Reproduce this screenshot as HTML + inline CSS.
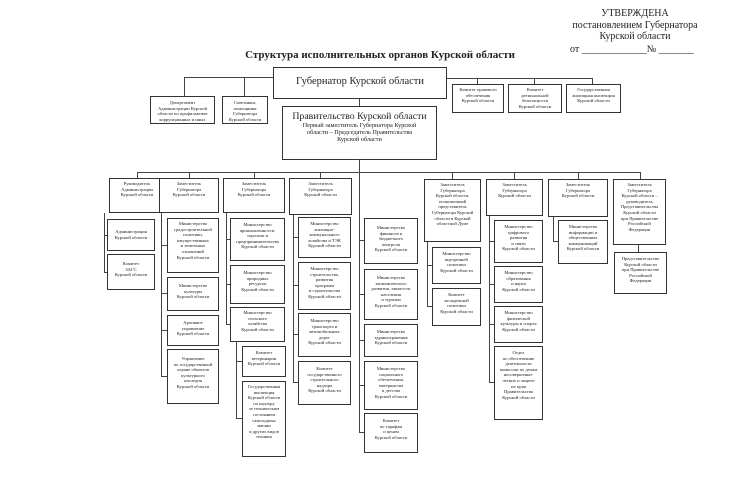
<!DOCTYPE html>
<html><head><meta charset="utf-8"><style>
body{margin:0;background:#fff;}
#c{position:relative;width:750px;height:500px;overflow:hidden;font-family:"Liberation Serif","Noto Serif CJK SC",serif;color:#222;}
.b{position:absolute;border:1px solid #333;box-sizing:border-box;text-align:center;font-size:4.6px;line-height:5.6px;padding-top:2px;background:#fff;overflow:hidden;}
.h{position:absolute;border-top:1px solid #444;height:0;}
.v{position:absolute;border-left:1px solid #444;width:0;}
.t{position:absolute;text-align:center;}
</style></head><body><div id="c">
<div class="t" style="left:555px;top:8px;width:160px;font-size:10px;line-height:11.5px;white-space:nowrap;">УТВЕРЖДЕНА<br>постановлением Губернатора<br>Курской области</div>
<div class="t" style="left:570px;top:44px;width:140px;font-size:10px;text-align:left;white-space:nowrap;">от _____________№ _______</div>
<div class="t" style="left:220px;top:49px;width:320px;font-size:11px;font-weight:bold;white-space:nowrap;">Структура исполнительных органов Курской области</div>

<!-- top lines -->
<div class="h" style="left:184px;top:77px;width:89px;"></div>
<div class="v" style="left:184px;top:77px;height:19px;"></div>
<div class="v" style="left:244px;top:77px;height:19px;"></div>
<div class="h" style="left:446px;top:78px;width:146px;"></div>
<div class="v" style="left:477px;top:78px;height:7px;"></div>
<div class="v" style="left:534px;top:78px;height:7px;"></div>
<div class="v" style="left:592px;top:78px;height:7px;"></div>
<div class="v" style="left:359px;top:98px;height:8px;"></div>

<div class="b" style="left:273px;top:67px;width:174px;height:32px;font-size:10.5px;line-height:12px;padding-top:8px;">Губернатор Курской области</div>
<div class="b" style="left:150px;top:96px;width:65px;height:28px;padding-top:3px;">Департамент<br>Администрации Курской<br>области по профилактике<br>коррупционных и иных<br>правонарушений</div>
<div class="b" style="left:222px;top:96px;width:46px;height:28px;padding-top:3px;">Советники,<br>помощники<br>Губернатора<br>Курской области</div>
<div class="b" style="left:452px;top:84px;width:52px;height:29px;">Комитет правового<br>обеспечения<br>Курской области</div>
<div class="b" style="left:508px;top:84px;width:54px;height:29px;">Комитет<br>региональной<br>безопасности<br>Курской области</div>
<div class="b" style="left:566px;top:84px;width:55px;height:29px;">Государственная<br>жилищная инспекция<br>Курской области</div>

<div class="b" style="left:282px;top:106px;width:155px;height:54px;padding-top:4px;"><div style="font-size:9.8px;line-height:11px;">Правительство Курской области</div><div style="font-size:6.3px;line-height:7px;">Первый заместитель Губернатора Курской<br>области – Председатель Правительства<br>Курской области</div></div>

<!-- bus -->
<div class="v" style="left:359px;top:159px;height:274px;"></div>
<div class="h" style="left:137px;top:172px;width:503px;"></div>
<div class="v" style="left:137px;top:172px;height:6px;"></div>
<div class="v" style="left:189px;top:172px;height:6px;"></div>
<div class="v" style="left:254px;top:172px;height:6px;"></div>
<div class="v" style="left:320px;top:172px;height:6px;"></div>
<div class="v" style="left:452px;top:172px;height:7px;"></div>
<div class="v" style="left:514px;top:172px;height:7px;"></div>
<div class="v" style="left:578px;top:172px;height:7px;"></div>
<div class="v" style="left:640px;top:172px;height:7px;"></div>

<!-- deputies row -->
<div class="b" style="left:109px;top:178px;width:56px;height:35px;">Руководитель<br>Администрации<br>Курской области</div>
<div class="b" style="left:159px;top:178px;width:60px;height:35px;">Заместитель<br>Губернатора<br>Курской области</div>
<div class="b" style="left:223px;top:178px;width:62px;height:35px;">Заместитель<br>Губернатора<br>Курской области</div>
<div class="b" style="left:289px;top:178px;width:63px;height:37px;">Заместитель<br>Губернатора<br>Курской области</div>
<div class="b" style="left:424px;top:179px;width:57px;height:63px;">Заместитель<br>Губернатора<br>Курской области,<br>полномочный<br>представитель<br>Губернатора Курской<br>области в Курской<br>областной Думе</div>
<div class="b" style="left:486px;top:179px;width:57px;height:37px;">Заместитель<br>Губернатора<br>Курской области</div>
<div class="b" style="left:548px;top:179px;width:60px;height:38px;">Заместитель<br>Губернатора<br>Курской области</div>
<div class="b" style="left:613px;top:179px;width:53px;height:66px;">Заместитель<br>Губернатора<br>Курской области –<br>руководитель<br>Представительства<br>Курской области<br>при Правительстве<br>Российской<br>Федерации</div>

<!-- col 1 -->
<div class="v" style="left:104px;top:213px;height:60px;"></div>
<div class="h" style="left:104px;top:235px;width:4px;"></div>
<div class="h" style="left:104px;top:272px;width:4px;"></div>
<div class="b" style="left:107px;top:219px;width:48px;height:32px;padding-top:9px;">Администрация<br>Курской области</div>
<div class="b" style="left:107px;top:254px;width:48px;height:36px;padding-top:6px;">Комитет<br>ЗАГС<br>Курской области</div>

<!-- col 2 -->
<div class="v" style="left:161px;top:213px;height:164px;"></div>
<div class="h" style="left:161px;top:245px;width:6px;"></div>
<div class="h" style="left:161px;top:293px;width:6px;"></div>
<div class="h" style="left:161px;top:330px;width:6px;"></div>
<div class="h" style="left:161px;top:376px;width:6px;"></div>
<div class="b" style="left:167px;top:218px;width:52px;height:55px;">Министерство<br>градостроительной<br>политики,<br>имущественных<br>и земельных<br>отношений<br>Курской области</div>
<div class="b" style="left:167px;top:277px;width:52px;height:34px;padding-top:5px;">Министерство<br>культуры<br>Курской области</div>
<div class="b" style="left:167px;top:315px;width:52px;height:31px;padding-top:4px;">Архивное<br>управление<br>Курской области</div>
<div class="b" style="left:167px;top:349px;width:52px;height:55px;padding-top:6px;">Управление<br>по государственной<br>охране объектов<br>культурного<br>наследия<br>Курской области</div>

<!-- col 3 -->
<div class="v" style="left:226px;top:213px;height:111px;"></div>
<div class="h" style="left:226px;top:239px;width:4px;"></div>
<div class="h" style="left:226px;top:284px;width:4px;"></div>
<div class="h" style="left:226px;top:324px;width:4px;"></div>
<div class="b" style="left:230px;top:218px;width:55px;height:43px;padding-top:3px;">Министерство<br>промышленности,<br>торговли и<br>предпринимательства<br>Курской области</div>
<div class="b" style="left:230px;top:265px;width:55px;height:39px;padding-top:4px;">Министерство<br>природных<br>ресурсов<br>Курской области</div>
<div class="b" style="left:230px;top:307px;width:55px;height:35px;">Министерство<br>сельского<br>хозяйства<br>Курской области</div>
<div class="v" style="left:236px;top:341px;height:78px;"></div>
<div class="h" style="left:236px;top:361px;width:6px;"></div>
<div class="h" style="left:236px;top:418px;width:6px;"></div>
<div class="b" style="left:242px;top:346px;width:44px;height:31px;padding-top:3px;">Комитет<br>ветеринарии<br>Курской области</div>
<div class="b" style="left:242px;top:381px;width:44px;height:76px;">Государственная<br>инспекция<br>Курской области<br>по надзору<br>за техническим<br>состоянием<br>самоходных<br>машин<br>и других видов<br>техники</div>

<!-- col 4 -->
<div class="v" style="left:293px;top:215px;height:168px;"></div>
<div class="h" style="left:293px;top:237px;width:5px;"></div>
<div class="h" style="left:293px;top:285px;width:5px;"></div>
<div class="h" style="left:293px;top:334px;width:5px;"></div>
<div class="h" style="left:293px;top:382px;width:5px;"></div>
<div class="b" style="left:298px;top:217px;width:53px;height:41px;padding-top:3px;">Министерство<br>жилищно-<br>коммунального<br>хозяйства и ТЭК<br>Курской области</div>
<div class="b" style="left:298px;top:262px;width:53px;height:48px;padding-top:3px;">Министерство<br>строительства,<br>развития<br>программ<br>и строительства<br>Курской области</div>
<div class="b" style="left:298px;top:313px;width:53px;height:44px;padding-top:4px;">Министерство<br>транспорта и<br>автомобильных<br>дорог<br>Курской области</div>
<div class="b" style="left:298px;top:361px;width:53px;height:44px;padding-top:4px;">Комитет<br>государственного<br>строительного<br>надзора<br>Курской области</div>

<!-- central col -->
<div class="h" style="left:359px;top:240px;width:5px;"></div>
<div class="h" style="left:359px;top:294px;width:5px;"></div>
<div class="h" style="left:359px;top:340px;width:5px;"></div>
<div class="h" style="left:359px;top:385px;width:5px;"></div>
<div class="h" style="left:359px;top:432px;width:5px;"></div>
<div class="b" style="left:364px;top:218px;width:54px;height:46px;padding-top:6px;">Министерство<br>финансов и<br>бюджетного<br>контроля<br>Курской области</div>
<div class="b" style="left:364px;top:269px;width:54px;height:51px;padding-top:5px;">Министерство<br>экономического<br>развития, занятости<br>населения<br>и туризма<br>Курской области</div>
<div class="b" style="left:364px;top:324px;width:54px;height:33px;padding-top:4px;">Министерство<br>здравоохранения<br>Курской области</div>
<div class="b" style="left:364px;top:361px;width:54px;height:49px;padding-top:4px;">Министерство<br>социального<br>обеспечения,<br>материнства<br>и детства<br>Курской области</div>
<div class="b" style="left:364px;top:413px;width:54px;height:40px;padding-top:4px;">Комитет<br>по тарифам<br>и ценам<br>Курской области</div>

<!-- col Duma -->
<div class="v" style="left:427px;top:242px;height:65px;"></div>
<div class="h" style="left:427px;top:265px;width:5px;"></div>
<div class="h" style="left:427px;top:306px;width:5px;"></div>
<div class="b" style="left:432px;top:247px;width:49px;height:37px;padding-top:3px;">Министерство<br>внутренней<br>политики<br>Курской области</div>
<div class="b" style="left:432px;top:288px;width:49px;height:38px;padding-top:3px;">Комитет<br>молодежной<br>политики<br>Курской области</div>

<!-- col 5 -->
<div class="v" style="left:489px;top:216px;height:167px;"></div>
<div class="h" style="left:489px;top:241px;width:5px;"></div>
<div class="h" style="left:489px;top:284px;width:5px;"></div>
<div class="h" style="left:489px;top:324px;width:5px;"></div>
<div class="h" style="left:489px;top:382px;width:5px;"></div>
<div class="b" style="left:494px;top:220px;width:49px;height:43px;padding-top:3px;">Министерство<br>цифрового<br>развития<br>и связи<br>Курской области</div>
<div class="b" style="left:494px;top:266px;width:49px;height:37px;padding-top:3px;">Министерство<br>образования<br>и науки<br>Курской области</div>
<div class="b" style="left:494px;top:306px;width:49px;height:37px;padding-top:3px;">Министерство<br>физической<br>культуры и спорта<br>Курской области</div>
<div class="b" style="left:494px;top:346px;width:49px;height:74px;padding-top:3px;">Отдел<br>по обеспечению<br>деятельности<br>комиссии по делам<br>несовершенно-<br>летних и защите<br>их прав<br>Правительства<br>Курской области</div>

<!-- col 6 -->
<div class="v" style="left:553px;top:217px;height:24px;"></div>
<div class="h" style="left:553px;top:241px;width:5px;"></div>
<div class="b" style="left:558px;top:220px;width:50px;height:44px;padding-top:3px;">Министерство<br>информации и<br>общественных<br>коммуникаций<br>Курской области</div>

<!-- col 7 -->
<div class="v" style="left:638px;top:245px;height:7px;"></div>
<div class="b" style="left:614px;top:252px;width:53px;height:42px;padding-top:3px;">Представительство<br>Курской области<br>при Правительстве<br>Российской<br>Федерации</div>
</div></body></html>
